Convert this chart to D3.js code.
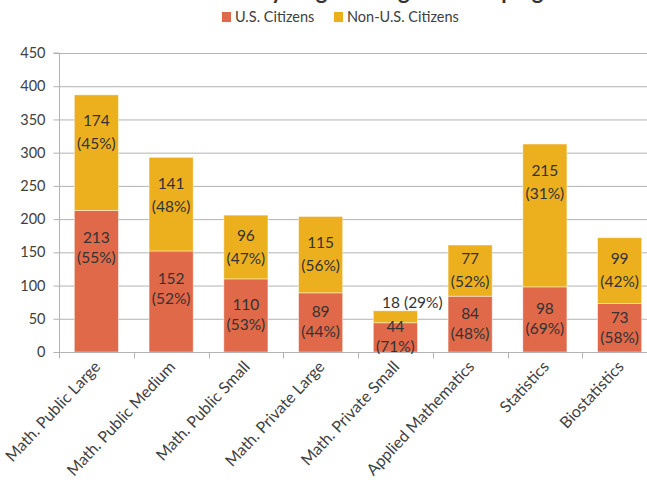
<!DOCTYPE html>
<html><head><meta charset="utf-8">
<script src="https://cdn.jsdelivr.net/npm/d3@7/dist/d3.min.js"></script>
<style>
html,body{margin:0;padding:0;background:#fff;}
svg{display:block;font-family:Lato,"Open Sans",sans-serif;}
</style></head>
<body><svg id="c" width="647" height="487"></svg>
<script>
const categories = ["Math. Public Large","Math. Public Medium","Math. Public Small","Math. Private Large","Math. Private Small","Applied Mathematics","Statistics","Biostatistics"];
const usCitizens = [213,152,110,89,44,84,98,73];
const nonUsCitizens = [174,141,96,115,18,77,215,99];
const usPct = [55,52,53,44,71,48,69,58];
const nonUsPct = [45,48,47,56,29,52,31,42];
const yTicks = [0,50,100,150,200,250,300,350,400,450];
const seriesNames = ["U.S. Citizens","Non-U.S. Citizens"];
const colors = ["#E0694A","#ECB01F"];
const titleText = "Enrollment by Degree Program Grouping";

(function(){
const svg = d3.select("#c");
const pL = 59, pR = 657, pT = 53, pB = 352;
const x = d3.scaleBand().domain(categories).range([pL, pR]).paddingInner(0.41).paddingOuter(0.205);
const y = d3.scaleLinear().domain([0,450]).range([pB, pT]);
const textColor = "#404040";

svg.append("text").attr("x", 345).attr("y", -1).attr("text-anchor","middle")
  .attr("font-size", 22).attr("font-weight","bold").attr("fill","#333").text(titleText);

svg.append("g").selectAll("line").data(yTicks.filter(d=>d>0)).join("line")
  .attr("x1", pL).attr("x2", pR).attr("y1", d=>y(d)+0.5).attr("y2", d=>y(d)+0.5)
  .attr("stroke", "#b3b3b3").attr("stroke-width", 1);

const yAxis = svg.append("g").attr("transform", `translate(${pL+0.5},0)`)
  .call(d3.axisLeft(y).tickValues(yTicks).tickSize(6).tickPadding(8));
yAxis.select(".domain").attr("stroke","#b3b3b3").attr("d", `M-6,${pT}H0V${pB}`);
yAxis.selectAll(".tick line").attr("stroke","#b3b3b3");
yAxis.selectAll(".tick text").attr("font-size", 14.5).attr("fill", textColor).attr("font-family","Lato,sans-serif");

const rows = categories.map((c,i)=>({cat:c, us:usCitizens[i], non:nonUsCitizens[i], usP:usPct[i], nonP:nonUsPct[i]}));
const stack = d3.stack().keys(["us","non"])(rows);

const g = svg.append("g");
stack.forEach((layer, li) => {
  g.append("g").selectAll("rect").data(layer).join("rect")
    .attr("x", d=>x(d.data.cat)).attr("width", x.bandwidth())
    .attr("y", d=>y(d[1])).attr("height", d=>y(d[0])-y(d[1]))
    .attr("fill", colors[li]).attr("stroke","rgba(255,255,255,0.55)").attr("stroke-width",0.8);
});

const xAxis = svg.append("g").attr("transform", `translate(0,${pB+0.5})`);
xAxis.append("line").attr("x1", pL).attr("x2", pR).attr("stroke","#b3b3b3");
const bounds = categories.map(c => x(c) - x.step()*x.paddingInner()/2);
bounds.push(pR);
xAxis.selectAll("line.tk").data(bounds).join("line").attr("class","tk")
  .attr("x1", d=>Math.round(d)+0.5).attr("x2", d=>Math.round(d)+0.5).attr("y1",0).attr("y2",6).attr("stroke","#b3b3b3");
xAxis.selectAll("text").data(categories).join("text")
  .attr("transform", d=>`translate(${x(d)+x.bandwidth()/2+5},${15}) rotate(-47)`)
  .attr("text-anchor","end").attr("font-size", 16).attr("fill", textColor).text(d=>d);

const lab = svg.append("g").attr("font-size", 15.5).attr("fill", "#333").attr("text-anchor","middle");
stack.forEach((layer, li) => {
  const gap = li===0 ? 20 : 23;
  layer.forEach(d => {
    const y0 = y(d[1]), y1 = y(d[0]);
    const h = y1 - y0;
    const cx = x(d.data.cat) + x.bandwidth()/2;
    const v = li===0 ? d.data.us : d.data.non;
    const p = li===0 ? d.data.usP : d.data.nonP;
    if (h < 20) {
      lab.append("text").attr("x", cx+17).attr("y", y0-3).text(`${v} (${p}%)`);
    } else {
      const c = Math.min((y0+y1)/2, y0+38);
      lab.append("text").attr("x", cx).attr("y", c - gap/2 + 5).text(v);
      lab.append("text").attr("x", cx).attr("y", c + gap/2 + 5).text(`(${p}%)`);
    }
  });
});

const leg = svg.append("g").attr("font-size", 14.5).attr("fill", textColor);
const legX = [222, 334];
seriesNames.forEach((n,i)=>{
  leg.append("rect").attr("x", legX[i]).attr("y", 12).attr("width", 9).attr("height", 10).attr("fill", colors[i]);
  leg.append("text").attr("x", legX[i]+13).attr("y", 22).text(n);
});
})();
</script></body></html>
